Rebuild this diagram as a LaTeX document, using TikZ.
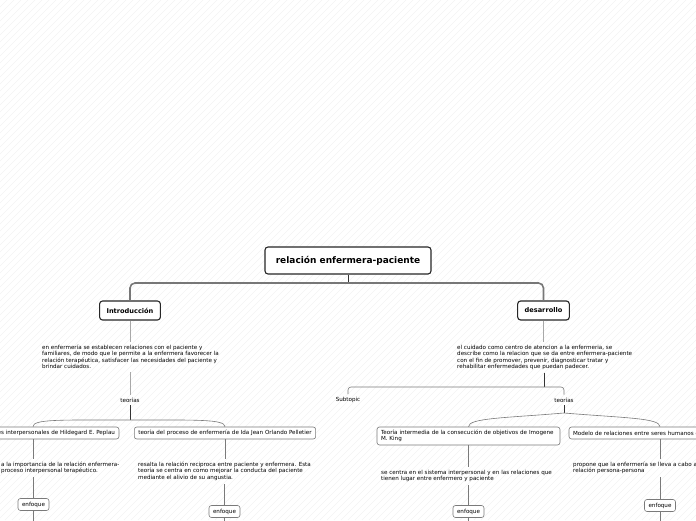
\documentclass[tikz,border=0pt]{standalone}
\usepackage{fontspec}
\setmainfont{DejaVu Sans}
\usepackage{xcolor}
\usepackage{tikz}
\definecolor{hatchgray}{HTML}{F3F3F3}
\definecolor{trunkgray}{HTML}{777777}
\definecolor{stemgray}{HTML}{A8A8A8}
\definecolor{boxgray}{HTML}{7A7A7A}

\begin{document}
\begin{tikzpicture}[x=1pt, y=-1pt,
  rootbox/.style={draw=black!85, line width=1.1pt, rounded corners=3pt, fill=white, minimum width=166pt, minimum height=27pt, font=\bfseries\fontsize{9}{11}\selectfont},
  mainbox/.style={draw=black!85, line width=1.1pt, rounded corners=3pt, fill=white, minimum height=19pt, inner xsep=7pt, font=\bfseries\fontsize{6.6}{8}\selectfont},
  topicbox/.style={draw=boxgray, line width=0.6pt, rounded corners=2.5pt, fill=white, minimum height=12pt, inner xsep=4pt, inner ysep=2pt, font=\fontsize{5.6}{6.3}\selectfont},
  enfbox/.style={draw=boxgray, line width=0.6pt, rounded corners=2.5pt, fill=white, minimum height=12pt, minimum width=31pt, inner sep=1pt, font=\fontsize{5.6}{6.3}\selectfont},
  note/.style={align=left, inner sep=3pt, font=\fontsize{5.6}{6.3}\selectfont},
  tag/.style={inner sep=3pt, font=\fontsize{5.6}{6.3}\selectfont},
  hatch/.style={hatchgray, line width=0.5pt},
  trunk/.style={trunkgray, line width=1.6pt, rounded corners=5pt},
  stem/.style={stemgray, line width=1pt},
  darkstem/.style={black!80, line width=0.8pt},
  branch/.style={boxgray, line width=0.6pt, rounded corners=3pt}]
\useasboundingbox (0,0) rectangle (696,520);
\fill[white] (0,0) rectangle (696,520);
\begin{scope}
\clip (0,0) rectangle (696,520);
\foreach \i in {0,7,...,1225}
  \draw[hatch] (\i,0) -- (\i-520,520);
\end{scope}

\coordinate (rootjoin) at (348,283);
\coordinate (ijoin) at (130,420);
\coordinate (djoin) at (544,387);
\coordinate (djoin2) at (564,413);

\node[rootbox] (root) at (348,260.5) {relación enfermera-paciente};
\node[mainbox] (intro) at (130,310.5) {Introducción};
\node[mainbox] (dev) at (543.5,310.5) {desarrollo};

\node[note, anchor=north west] (idesc) at (39,342) {en enfermería se establecen relaciones con el paciente y\\familiares, de modo que le permite a la enfermera favorecer la\\relación terapéutica, satisfacer las necesidades del paciente y\\brindar cuidados.};
\node[tag] (iteorias) at (130,400) {teorías};
\node[topicbox, text width=164pt, align=right] (peplau) at (33,433) {es interpersonales de Hildegard E. Peplau};
\node[topicbox] (ida) at (225,433) {teoría del proceso de enfermería de Ida Jean Orlando Pelletier};
\node[note, anchor=north west] (pdesc) at (-2,459) {a la importancia de la relación enfermera-\\proceso interpersonal terapéutico.};
\node[note, anchor=north west] (idadesc) at (135,459) {resalta la relación reciproca entre paciente y enfermera. Esta\\teoría se centra en como mejorar la conducta del paciente\\mediante el alivio de su angustia.};
\node[enfbox] (penfoque) at (33.5,504.5) {enfoque};
\node[enfbox] (idaenfoque) at (224.5,511.5) {enfoque};

\node[note, anchor=north west] (ddesc) at (454,342) {el cuidado como centro de atencion a la enfermeria, se\\describe como la relacion que se da entre enfermera-paciente\\con el fin de promover, prevenir, diagnosticar tratar y\\rehabilitar enfermedades que puedan padecer.};
\node[tag] (subtopic) at (348,400) {Subtopic};
\node[tag] (dteorias) at (564,400) {teorías};
\node[topicbox, text width=175pt, align=left, minimum height=18pt] (king) at (468.5,436) {Teoría intermedia de la consecución de objetivos de Imogene\\M. King};
\node[topicbox, text width=174pt, align=left] (modelo) at (660,433) {Modelo de relaciones entre seres humanos de};
\node[note, anchor=north west] (kdesc) at (378,467) {se centra en el sistema interpersonal y en las relaciones que\\tienen lugar entre enfermero y paciente};
\node[note, anchor=north west] (mdesc) at (570,459) {propone que la enfermería se lleva a cabo a\\relación persona-persona};
\node[enfbox] (kenfoque) at (468.5,511.5) {enfoque};
\node[enfbox] (menfoque) at (660,505.5) {enfoque};

\coordinate (pend) at (33.5,526);
\coordinate (idaend) at (224.5,526);
\coordinate (kend) at (468.5,526);
\coordinate (mend) at (660,526);

\draw[darkstem] (root) -- (rootjoin);
\draw[trunk] (rootjoin) -| (intro);
\draw[trunk] (rootjoin) -| (dev);

\draw[stem] (intro) -- (intro |- idesc.north);
\draw[stem] (iteorias) -- (iteorias |- idesc.south);
\draw[darkstem] (iteorias) -- (ijoin);
\draw[branch] (ijoin) .. controls (60,420) and (33,419) .. (peplau.north);
\draw[branch] (ijoin) .. controls (195,420) and (225,419) .. (ida.north);
\draw[branch] (peplau) -- (peplau |- pdesc.north);
\draw[branch] (penfoque) -- (penfoque |- pdesc.south);
\draw[branch] (penfoque) -- (pend);
\draw[branch] (ida) -- (ida |- idadesc.north);
\draw[branch] (idaenfoque) -- (idaenfoque |- idadesc.south);
\draw[branch] (idaenfoque) -- (idaend);

\draw[stem] (dev) -- (dev |- ddesc.north);
\draw[darkstem] (djoin |- ddesc.south) -- (djoin);
\draw[branch] (djoin) -| (subtopic);
\draw[branch] (djoin) -| (dteorias);
\draw[darkstem] (dteorias) -- (djoin2);
\draw[branch] (djoin2) .. controls (505,418) and (468.5,418) .. (king.north);
\draw[branch] (djoin2) .. controls (625,418) and (660,418) .. (modelo.north);
\draw[branch] (king) -- (king |- kdesc.north);
\draw[branch] (kenfoque) -- (kenfoque |- kdesc.south);
\draw[branch] (kenfoque) -- (kend);
\draw[branch] (modelo) -- (modelo |- mdesc.north);
\draw[branch] (menfoque) -- (menfoque |- mdesc.south);
\draw[branch] (menfoque) -- (mend);
\end{tikzpicture}
\end{document}
